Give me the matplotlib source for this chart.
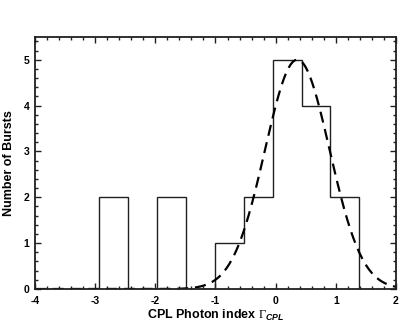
import numpy as np
import matplotlib
matplotlib.use("Agg")
import matplotlib.pyplot as plt
from matplotlib.ticker import MultipleLocator

# Histogram data
bin_edges = [-2.93, -2.45, -1.97, -1.49, -1.01, -0.53, -0.05, 0.43, 0.91, 1.39]
counts = [2, 0, 2, 0, 1, 2, 5, 4, 2]

# Gaussian fit parameters (dashed curve)
fit_amplitude = 5.0
fit_mean = 0.36
fit_sigma = 0.537

x_ticks = [-4, -3, -2, -1, 0, 1, 2]
y_ticks = [0, 1, 2, 3, 4, 5]

plt.rcParams['font.family'] = ['Liberation Sans', 'DejaVu Sans']
plt.rcParams['axes.unicode_minus'] = False
plt.rcParams['mathtext.fontset'] = 'custom'
plt.rcParams['mathtext.rm'] = 'Liberation Serif'
plt.rcParams['mathtext.it'] = 'Liberation Sans:italic:bold'
plt.rcParams['mathtext.bf'] = 'Liberation Sans:bold'

fig = plt.figure(figsize=(4.15, 3.34), dpi=100)
ax = fig.add_axes([0.0843, 0.1347, 0.8699, 0.7553])

ax.stairs(counts, bin_edges, color='#202020', linewidth=1.0, baseline=0)

xf = np.linspace(-4, 2, 600)
yf = fit_amplitude * np.exp(-(xf - fit_mean) ** 2 / (2 * fit_sigma ** 2))
ax.plot(xf, yf, color='black', linewidth=1.6, linestyle=(0, (5, 3)))

ax.set_xlim(-4, 2)
ax.set_ylim(0, 5.5)
ax.set_xticks(x_ticks)
ax.set_yticks(y_ticks)
ax.xaxis.set_minor_locator(MultipleLocator(0.2))
ax.yaxis.set_minor_locator(MultipleLocator(0.2))
ax.tick_params(which='both', direction='in', top=True, right=True,
               width=1.0, color='#202020')
ax.tick_params(which='major', length=4, labelsize=7.5)
ax.tick_params(axis='x', which='major', pad=5)
ax.tick_params(axis='y', which='major', pad=4)
ax.tick_params(which='minor', length=2.5)
for lab in ax.get_xticklabels() + ax.get_yticklabels():
    lab.set_fontweight('bold')
for s in ax.spines.values():
    s.set_linewidth(1.3)
    s.set_color('#202020')

ax.set_xlabel(r'CPL Photon index $\mathrm{\Gamma}_{\mathit{CPL}}$', fontsize=9,
              fontweight='bold', va='center')
ax.set_ylabel('Number of Bursts', fontsize=9, fontweight='bold', va='center')
ax.xaxis.set_label_coords(0.5, -0.105)
ax.yaxis.set_label_coords(-0.072, 0.5)

fig.savefig('out.png', dpi=100)
